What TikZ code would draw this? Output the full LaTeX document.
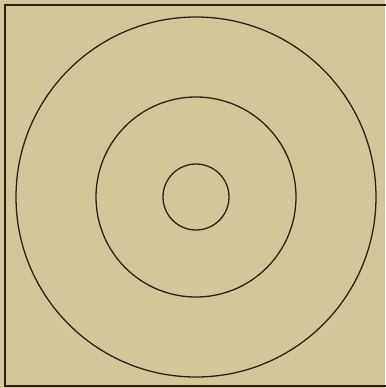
\documentclass[tikz,border=0pt]{standalone}
\usepackage{tikz}
\definecolor{paper}{RGB}{214, 197, 153}
\definecolor{ink}{RGB}{48, 30, 22}
\tikzset{
  ring/.style={draw=ink, line width=1.1pt},
  frameline/.style={draw=ink, line width=1.6pt},
}
\begin{document}
\begin{tikzpicture}[x=0.03cm, y=-0.03cm]
  \fill[paper] (0,0) rectangle (385,388);
  \useasboundingbox (0,0) rectangle (385,388);
  % frame, right side falls outside the picture
  \coordinate (tr) at (390,5);
  \coordinate (tl) at (5,5);
  \coordinate (bl) at (5,386);
  \coordinate (br) at (390,386);
  \draw[frameline] (tr) -- (tl) -- (bl) -- (br);
  % rings
  \coordinate (centre) at (196,197);
  \draw[ring] (centre) circle[radius=180];
  \draw[ring] (centre) circle[radius=100];
  \draw[ring] (centre) circle[radius=33];
\end{tikzpicture}
\end{document}
